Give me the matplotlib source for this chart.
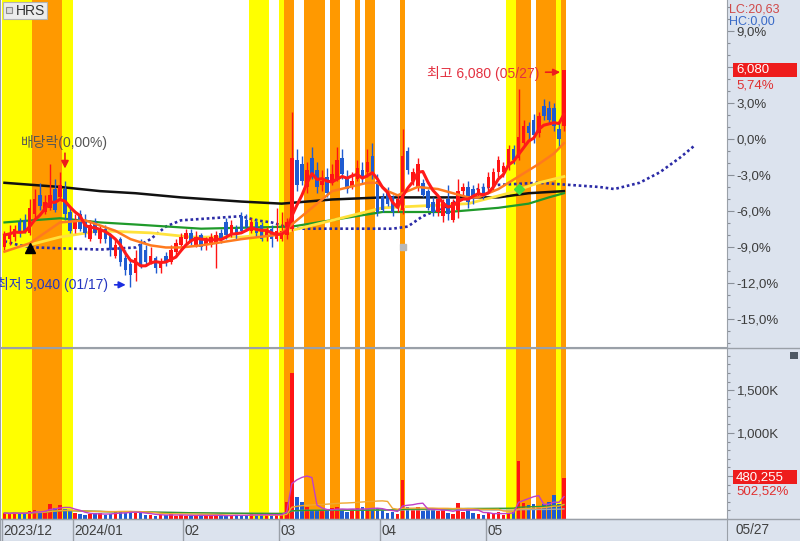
import numpy as np
import pandas as pd
import matplotlib
matplotlib.use("Agg")
import matplotlib.pyplot as plt
from matplotlib.patches import Rectangle
from matplotlib.lines import Line2D

plt.rcParams['font.family'] = ['Liberation Sans', 'Noto Sans CJK KR', 'DejaVu Sans']

# daily candles (KRW), 2023/12 ~ 2024/05/27
opens = [5230, 5270, 5280, 5350, 5360, 5300, 5390, 5480, 5400, 5420, 5510, 5470, 5510, 5400,
         5320, 5390, 5360, 5270, 5350, 5270, 5320, 5290, 5190, 5270, 5180, 5150, 5110, 5240,
         5220, 5160, 5180, 5130, 5190, 5160, 5210, 5240,
         5270, 5300, 5240, 5290, 5240, 5240, 5250, 5300, 5350, 5300, 5320, 5380, 5360, 5310,
         5350, 5340, 5280, 5320, 5270,
         5270, 5290, 5320, 5650, 5630, 5520, 5660, 5600, 5530, 5570, 5540, 5560, 5660, 5570,
         5520, 5560, 5600, 5590, 5670, 5550,
         5470, 5500, 5470, 5420, 5410, 5690, 5550, 5520, 5540, 5500, 5450, 5400, 5380, 5460,
         5360, 5410, 5500, 5520, 5510, 5480, 5520,
         5520, 5520, 5590, 5590, 5620, 5700, 5660, 5730, 5810, 5840, 5780, 5910, 5900, 5900,
         5800, 5810]
closes = [5290, 5300, 5320, 5300, 5310, 5420, 5460, 5430, 5450, 5480, 5410, 5530, 5390, 5310,
          5360, 5320, 5300, 5340, 5300, 5320, 5270, 5220, 5240, 5160, 5120, 5100, 5180, 5150,
          5160, 5190, 5130, 5160, 5160, 5220, 5250, 5280,
          5300, 5260, 5280, 5230, 5270, 5280, 5290, 5270, 5290, 5340, 5290, 5310, 5330, 5350,
          5300, 5270, 5310, 5270, 5310,
          5310, 5350, 5660, 5530, 5550, 5600, 5580, 5520, 5550, 5490, 5580, 5650, 5580, 5510,
          5550, 5610, 5560, 5640, 5580, 5400,
          5410, 5440, 5400, 5460, 5670, 5600, 5590, 5630, 5480, 5420, 5400, 5460, 5450, 5390,
          5450, 5500, 5520, 5450, 5460, 5510, 5470,
          5570, 5590, 5650, 5620, 5700, 5650, 5760, 5810, 5780, 5770, 5860, 5860, 5840, 5810,
          5750, 6080]
highs = [5310, 5340, 5340, 5370, 5390, 5460, 5510, 5540, 5480, 5630, 5560, 5590, 5550, 5430,
         5390, 5410, 5390, 5360, 5370, 5340, 5340, 5300, 5270, 5280, 5220, 5170, 5220, 5270,
         5240, 5230, 5190, 5180, 5210, 5240, 5270, 5300,
         5320, 5320, 5310, 5300, 5280, 5300, 5310, 5320, 5370, 5360, 5340, 5400, 5390, 5370,
         5370, 5350, 5330, 5340, 5420,
         5400, 5370, 5880, 5700, 5670, 5640, 5710, 5640, 5600, 5610, 5630, 5710, 5700, 5600,
         5590, 5650, 5640, 5700, 5730, 5580,
         5490, 5520, 5480, 5480, 5800, 5710, 5610, 5660, 5560, 5510, 5470, 5470, 5460, 5530,
         5460, 5560, 5540, 5550, 5530, 5540, 5540,
         5590, 5610, 5670, 5640, 5720, 5720, 5990, 5840, 5830, 5870, 5880, 5940, 5930, 5920,
         5830, 6080]
lows = [5220, 5240, 5260, 5280, 5300, 5290, 5370, 5410, 5390, 5410, 5400, 5460, 5360, 5300,
        5300, 5310, 5280, 5260, 5290, 5250, 5250, 5190, 5180, 5140, 5100, 5040, 5070, 5130,
        5140, 5150, 5110, 5110, 5140, 5150, 5190, 5220,
        5250, 5240, 5230, 5220, 5220, 5230, 5130, 5250, 5270, 5280, 5270, 5300, 5310, 5300,
        5280, 5260, 5260, 5230, 5260,
        5260, 5270, 5310, 5500, 5530, 5490, 5560, 5490, 5500, 5470, 5530, 5550, 5560, 5490,
        5510, 5550, 5540, 5570, 5560, 5380,
        5400, 5430, 5380, 5400, 5390, 5580, 5530, 5500, 5470, 5410, 5380, 5380, 5350, 5360,
        5350, 5370, 5480, 5420, 5440, 5470, 5460,
        5500, 5500, 5570, 5570, 5600, 5630, 5650, 5720, 5740, 5730, 5760, 5840, 5820, 5790,
        5710, 5790]
volume_k = [70, 60, 80, 55, 65, 90, 110, 85, 95, 170, 130, 160, 120, 90,
            75, 60, 50, 55, 65, 70, 45, 60, 80, 90, 75, 85, 70, 65, 50, 45, 40, 50, 45, 55, 40, 45,
            40, 35, 45, 50, 40, 35, 45, 40, 35, 45, 50, 40, 45, 55, 50, 60, 45, 40, 55,
            60, 200, 1700, 260, 200, 140, 110, 100, 90, 110, 130, 140, 110, 80, 120, 130, 140, 120, 110, 130,
            100, 70, 80, 60, 450, 140, 100, 140, 90, 110, 120, 90, 110, 70, 60, 190, 80, 120, 70, 60, 50,
            70, 60, 80, 50, 70, 90, 680, 190, 160, 180, 150, 170, 200, 280, 170, 480.255]

month_start = [0, 14, 36, 55, 75, 96]
month_label = ['2023/12', '2024/01', '02', '03', '04', '05']
base_price = 5750  # 0,0%

# highlighted bar ranges (first bar, last bar, colour)
bands = [(0, 13, '#ffff00'), (6, 11, '#ff9900'), (49, 52, '#ffff00'), (55, 55, '#ffff00'),
         (56, 57, '#ff9900'), (60, 63, '#ff9900'), (65, 66, '#ff9900'), (70, 70, '#ff9900'),
         (72, 73, '#ff9900'), (79, 79, '#ff9900'), (100, 101, '#ffff00'), (102, 104, '#ff9900'),
         (106, 109, '#ff9900'), (110, 110, '#ffff00'), (111, 111, '#ff9900')]

# indicator lines (bar index, price)
ma10_i = [0, 5, 11, 16, 22, 25, 29, 32, 35, 39, 47, 54, 55, 61, 65, 72, 74, 76, 78, 82, 86, 92, 94, 98, 102, 106, 109, 111]
ma10_p = [5210, 5250, 5350, 5360, 5310, 5270, 5240, 5230, 5230, 5240, 5270, 5290, 5300, 5420, 5500, 5540, 5540,
          5500, 5480, 5520, 5510, 5470, 5470, 5510, 5570, 5630, 5680, 5730]
ma20_i = [3, 11, 19, 29, 37, 47, 55, 75, 92, 100, 106, 111]
ma20_p = [5230, 5280, 5310, 5300, 5280, 5280, 5300, 5420, 5440, 5490, 5540, 5570]
ma60_i = [0, 11, 19, 26, 39, 57, 75, 88, 98, 104, 108, 111]
ma60_p = [5350, 5370, 5350, 5340, 5320, 5330, 5400, 5400, 5420, 5440, 5470, 5490]
ma120_i = [0, 11, 19, 26, 35, 47, 55, 65, 75, 88, 98, 104, 111]
ma120_p = [5540, 5520, 5500, 5490, 5470, 5450, 5440, 5460, 5470, 5470, 5470, 5490, 5500]
span_i = [0, 3, 6, 19, 26, 29, 32, 35, 47, 50, 53, 57, 77, 80, 83, 88, 94, 98, 106, 118, 121, 126, 130, 134, 137]
span_p = [5260, 5240, 5230, 5220, 5230, 5270, 5330, 5360, 5380, 5360, 5350, 5320, 5320, 5330, 5380, 5430,
          5510, 5530, 5540, 5520, 5510, 5540, 5590, 5660, 5720]

W, H = 800, 541
fig = plt.figure(figsize=(W / 100, H / 100), dpi=100, facecolor='#dce3ee')
gw = 727 / W
ax1 = fig.add_axes([0, (H - 347) / H, gw, 347 / H])
ax2 = fig.add_axes([0, (H - 519) / H, gw, (519 - 348) / H], sharex=ax1)
ax3 = fig.add_axes([0, 0, gw, (H - 519) / H], sharex=ax1)

RED, BLUE = '#ff1414', '#1f5bd0'
n = len(closes)
x = np.arange(n)
o = np.array(opens); c = np.array(closes); hi = np.array(highs); lo = np.array(lows)
up = c >= o
col = np.where(up, RED, BLUE)

for ax in (ax1, ax2):
    ax.set_facecolor('white')
    for a, b, colr in bands:
        ax.axvspan(a - 0.5, b + 0.5, color=colr, lw=0, zorder=0)

# main panel
ax1.plot(span_i, span_p, color='#2b2ba6', lw=1.9, ls=(0, (1, 1.05)), zorder=2)
ax1.plot(ma120_i, ma120_p, color='#111111', lw=1.8, zorder=2)
ax1.plot(ma60_i, ma60_p, color='#1f9a2a', lw=1.6, zorder=2)
ax1.plot(ma20_i, ma20_p, color='#ffe23c', lw=2.0, zorder=2)
ax1.vlines(x, lo, hi, colors=col, lw=1, zorder=3)
ax1.bar(x, np.maximum(np.abs(c - o), 8), bottom=np.minimum(o, c), width=0.7, color=col, lw=0, zorder=3)
ax1.plot(ma10_i, ma10_p, color='#ff7a1e', lw=1.8, zorder=4)
ma5 = pd.Series(closes).rolling(5, min_periods=1).mean()
ax1.plot(x, ma5, color='#ff1a1a', lw=2.2, zorder=5)

ax1.plot(5, 5228, marker='^', color='black', ms=7, zorder=6)
ax1.plot(102, 5510, marker='D', color='#3fe03f', ms=5, zorder=6)
ax1.plot(79, 5233, marker='s', color='#b8b8b8', ms=4, zorder=6)

ax1.text(11.8, 5731, '배당락(0,00%)', ha='center', va='center', fontsize=10, color='#555555', zorder=7)
ax1.annotate('', xy=(12, 5595), xytext=(12, 5695),
             arrowprops=dict(arrowstyle='-|>', color='#ee1c1c', lw=1.2, mutation_scale=11), zorder=7)
ax1.text(106.2, 6066, '최고 6,080 (05/27)', ha='right', va='center', fontsize=10, color='#e33040', zorder=7)
ax1.annotate('', xy=(110.8, 6070), xytext=(106.8, 6070),
             arrowprops=dict(arrowstyle='-|>', color='#ee1c1c', lw=1.2, mutation_scale=10), zorder=7)
ax1.text(20.6, 5051, '최저 5,040 (01/17)', ha='right', va='center', fontsize=10, color='#2536c0', zorder=7)
ax1.annotate('', xy=(24.6, 5051), xytext=(21.3, 5051),
             arrowprops=dict(arrowstyle='-|>', color='#1c2ee0', lw=1.2, mutation_scale=10), zorder=7)

# % scale; the 6,0% label sits under the price box on the reference
pct_major = [-15, -12, -9, -6, -3, 0, 3, 6, 9]
ax1.set_ylim(4753, 6416)
ax1.set_yticks([base_price * (1 + p / 100) for p in pct_major])
ax1.set_yticklabels(['' if p == 6 else f'{p:.1f}%'.replace('.', ',') for p in pct_major])
ax1.set_yticks([base_price * (1 + p / 100) for p in range(-17, 12)], minor=True)
ax1.set_xlim(-0.89, 143.35)

# volume panel
ax2.bar(x, volume_k, width=0.7, color=col, lw=0, zorder=3)
vs = pd.Series(volume_k)
ax2.plot(x, vs.rolling(120, min_periods=1).mean(), color='#a8a8a8', lw=1, zorder=4)
ax2.plot(x, vs.rolling(60, min_periods=1).mean(), color='#2e9a2e', lw=1, zorder=4)
ax2.plot(x, vs.rolling(20, min_periods=1).mean(), color='#f0a830', lw=1, zorder=4)
ax2.plot(x, vs.rolling(5, min_periods=1).mean(), color='#c040c8', lw=1, zorder=4)
ax2.set_ylim(0, 1990)
ax2.set_yticks([500, 1000, 1500])
ax2.set_yticklabels(['', '1,000K', '1,500K'])
ax2.set_yticks(range(100, 1990, 100), minor=True)

for ax in (ax1, ax2):
    ax.yaxis.tick_right()
    ax.tick_params(axis='y', which='major', direction='out', length=5, width=0.8, color='#8a9099',
                   labelcolor='#3c3c3c', labelsize=9.5, pad=2)
    ax.tick_params(axis='y', which='minor', direction='out', length=2.5, width=0.8, color='#8a9099')
    ax.tick_params(axis='x', which='both', bottom=False, labelbottom=False)
    for s in ax.spines.values():
        s.set_color('#9aa0a8')
    ax.spines['top'].set_visible(False)

# date strip
ax3.set_facecolor('#dce3ee')
ax3.set_ylim(0, 1)
ax3.set_yticks([])
ax3.tick_params(axis='x', which='both', bottom=False, labelbottom=False)
for s in ax3.spines.values():
    s.set_color('#9aa0a8')
for i, lab in zip(month_start, month_label):
    ax3.axvline(i - 0.5, color='#9aa0a8', lw=1)
    ax3.text(i - 0.2, 0.45, lab, ha='left', va='center', fontsize=9.8, color='#404040')
fig.text(735 / W, 1 - 530 / H, '05/27', ha='left', va='center', fontsize=9.8, color='#404040')

fig.add_artist(Line2D([0, 1], [1 - 347.5 / H] * 2, color='#9aa0a8', lw=1))
fig.add_artist(Line2D([0, 1], [1 - 519 / H] * 2, color='#9aa0a8', lw=1))


def px_rect(x0, y0, w, h, **kw):
    fig.add_artist(Rectangle((x0 / W, 1 - (y0 + h) / H), w / W, h / H, transform=fig.transFigure, **kw))


# legend box and right side labels
px_rect(3, 2, 44, 17, facecolor='#ececec', edgecolor='#b4b4b4', lw=0.8)
px_rect(6, 7, 6, 6, facecolor='#dcdcdc', edgecolor='#8c8c8c', lw=0.8)
fig.text(16 / W, 1 - 11 / H, 'HRS', fontsize=10, color='#333333', va='center')

fig.text(729 / W, 1 - 9 / H, 'LC:20,63', fontsize=9, color='#d04848', va='center')
fig.text(729 / W, 1 - 21 / H, 'HC:0,00', fontsize=9, color='#3a6bc8', va='center')
px_rect(733, 63, 64, 14, facecolor='#ee1c1c', lw=0)
fig.text(736 / W, 1 - 70 / H, '6,080', fontsize=9.5, color='white', va='center')
fig.text(736 / W, 1 - 85 / H, '5,74%', fontsize=9.5, color='#e03030', va='center')
px_rect(733, 470, 64, 14, facecolor='#ee1c1c', lw=0)
fig.text(736 / W, 1 - 477 / H, '480,255', fontsize=9.5, color='white', va='center')
fig.text(736 / W, 1 - 492 / H, '502,52%', fontsize=9.5, color='#e03030', va='center')
px_rect(790, 352, 8, 7, facecolor='#4e5864', lw=0)

fig.savefig('out.png', dpi=100, facecolor=fig.get_facecolor())
